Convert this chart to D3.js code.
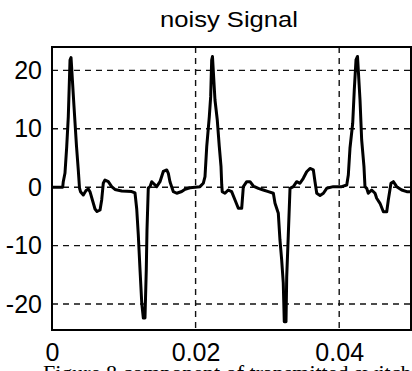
<!DOCTYPE html>
<html>
<head>
<meta charset="utf-8">
<script src="https://cdn.jsdelivr.net/npm/d3@7"></script>
<style>
  html, body { margin: 0; padding: 0; background: #fff; overflow: hidden; }
  svg { display: block; }
</style>
</head>
<body>
<svg id="chart" width="412" height="371"></svg>
<script>
// ---- data ----
const time = [0, 0.00149, 0.00157, 0.00181, 0.00205, 0.00227, 0.00251, 0.00265, 0.00306, 0.00341, 0.00366, 0.00383, 0.00397, 0.00436, 0.00474, 0.00506, 0.00529, 0.00599, 0.00627, 0.00669, 0.00692, 0.00714, 0.00738, 0.00784, 0.00831, 0.00877, 0.00971, 0.0111, 0.01156, 0.0118, 0.01202, 0.01226, 0.0125, 0.01272, 0.01295, 0.01313, 0.01323, 0.01341, 0.01365, 0.01389, 0.01411, 0.01458, 0.01504, 0.0155, 0.01598, 0.0162, 0.01643, 0.0169, 0.01737, 0.01807, 0.01853, 0.01922, 0.01992, 0.02061, 0.02107, 0.02131, 0.02155, 0.02191, 0.0221, 0.02224, 0.02235, 0.0227, 0.02302, 0.0233, 0.02354, 0.02364, 0.02371, 0.02409, 0.02455, 0.02502, 0.02549, 0.02595, 0.02642, 0.02665, 0.02712, 0.02758, 0.02804, 0.02874, 0.02943, 0.03013, 0.03083, 0.03106, 0.03152, 0.03175, 0.03199, 0.03221, 0.03235, 0.03259, 0.03269, 0.03291, 0.03315, 0.03361, 0.03408, 0.03454, 0.035, 0.03547, 0.03593, 0.0364, 0.03663, 0.03687, 0.03733, 0.0378, 0.03826, 0.03918, 0.04035, 0.04105, 0.04127, 0.0415, 0.04188, 0.0421, 0.04234, 0.04255, 0.0429, 0.04313, 0.04345, 0.04359, 0.04383, 0.04405, 0.04452, 0.04499, 0.04522, 0.04568, 0.04615, 0.04662, 0.04684, 0.04721, 0.04754, 0.04801, 0.04871, 0.04941, 0.05];
const signal = [0, 0, 0.94, 2.43, 6.93, 12.07, 21.78, 22.2, 13.9, 7.05, 2.95, -0.14, -0.77, -1.34, -0.57, -0.3, -0.77, -3.73, -4.16, -3.9, -2.19, 0.67, 1.23, 0.94, 0.09, -0.39, -0.65, -0.74, -0.99, -3.73, -8.18, -14.18, -19.83, -22.4, -22.4, -14.18, -7.33, -0.14, 0.09, 0.94, 0.67, 0.09, 0.94, 2.69, 2.95, 2.38, 0.94, -0.77, -1.04, -0.74, -0.36, -0.09, 0, 0.09, 0.67, 1.8, 6.93, 12.07, 15.5, 21.78, 22.38, 14.93, 11.5, 6.93, 3.51, 0.38, -0.77, -1.04, -0.48, -0.77, -2.19, -3.61, -3.61, 0.09, 0.94, 0.94, 0.2, -0.19, -0.48, -0.77, -1.04, -2.76, -4.47, -9.04, -12.47, -16.4, -23.03, -23.03, -15.33, -8.18, -0.19, 0.09, 0.94, 0.67, 1.52, 2.65, 3.2, 2.95, 0.94, -1.04, -1.42, -1.04, -0.19, 0.09, 0.09, 0.38, 2.09, 6.66, 10.94, 16.64, 21.78, 22.38, 14.93, 8.08, 3.51, 0.09, -0.19, -1.04, -0.48, -1.04, -1.9, -2.76, -4.2, -4.2, -2.19, 0.67, 0.94, 0.09, -0.48, -0.77, -0.77];

const xTickValues = [0, 0.02, 0.04];
const xTickLabels = ["0", "0.02", "0.04"];
const yTickValues = [20, 10, 0, -10, -20];
const yTickLabels = ["20", "10", "0", "-10", "-20"];
const xDomain = [0, 0.05];
const yDomain = [-24.45, 24];
const titleText = "noisy Signal";
const captionText = "Figure 8 component of transmitted switching signal";

// ---- layout ----
const plot = { left: 52, right: 411, top: 47, bottom: 330 };
const svg = d3.select("#chart");

const x = d3.scaleLinear().domain(xDomain).range([plot.left, plot.right]);
const y = d3.scaleLinear().domain(yDomain).range([plot.bottom, plot.top]);

// grid lines (dashed)
const grid = svg.append("g").attr("stroke", "#111").attr("stroke-width", 1.4)
  .attr("stroke-dasharray", "6,5").attr("fill", "none");
grid.selectAll("line.h").data(yTickValues).join("line").attr("class", "h")
  .attr("x1", plot.left).attr("x2", plot.right)
  .attr("y1", d => y(d)).attr("y2", d => y(d));
grid.selectAll("line.v").data(xTickValues.filter(d => d > xDomain[0])).join("line").attr("class", "v")
  .attr("x1", d => x(d)).attr("x2", d => x(d))
  .attr("y1", plot.top).attr("y2", plot.bottom);

// signal line
const line = d3.line().x((d, i) => x(time[i])).y(d => y(d));
svg.append("path").datum(signal)
  .attr("d", line)
  .attr("fill", "none").attr("stroke", "#000")
  .attr("stroke-width", 3).attr("stroke-linejoin", "round");

// frame
svg.append("rect")
  .attr("x", plot.left).attr("y", plot.top)
  .attr("width", plot.right - plot.left).attr("height", plot.bottom - plot.top)
  .attr("fill", "none").attr("stroke", "#000").attr("stroke-width", 2);

// axes (labels only)
const fontFam = "'Liberation Sans', Arial, sans-serif";
const yAxis = svg.append("g").attr("transform", `translate(${plot.left},0)`)
  .call(d3.axisLeft(y).tickValues(yTickValues).tickFormat((d, i) => yTickLabels[i]).tickSize(0).tickPadding(10));
const xAxis = svg.append("g").attr("transform", `translate(0,${plot.bottom})`)
  .call(d3.axisBottom(x).tickValues(xTickValues).tickFormat((d, i) => xTickLabels[i]).tickSize(0).tickPadding(13));
[yAxis, xAxis].forEach(g => {
  g.select(".domain").remove();
  g.selectAll("text").attr("font-family", fontFam).attr("font-size", 25).attr("fill", "#000");
});

// title
svg.append("text")
  .attr("x", 229).attr("y", 26.5)
  .attr("text-anchor", "middle")
  .attr("font-family", fontFam).attr("font-size", 22)
  .attr("textLength", 138).attr("lengthAdjust", "spacingAndGlyphs")
  .attr("fill", "#000")
  .text(titleText);

// caption (clipped at bottom of picture)
svg.append("text")
  .attr("x", 43).attr("y", 380)
  .attr("font-family", "'Liberation Serif', 'Times New Roman', serif").attr("font-size", 22)
  .attr("fill", "#000")
  .text(captionText);
</script>
</body>
</html>
